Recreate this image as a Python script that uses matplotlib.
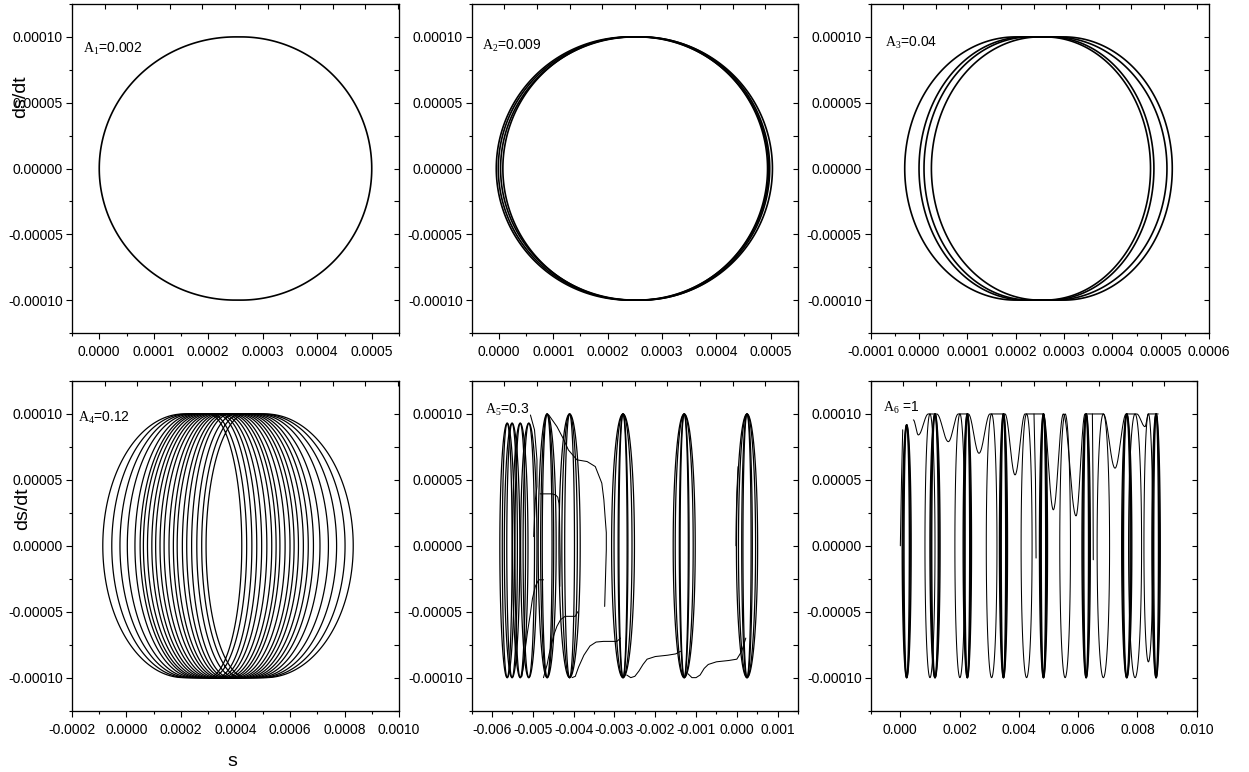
import numpy as np
import matplotlib
matplotlib.use("Agg")
import matplotlib.pyplot as plt
from matplotlib.patches import Polygon
from matplotlib.ticker import MultipleLocator, FormatStrFormatter

plt.rcParams["font.family"] = ["Liberation Sans", "DejaVu Sans"]
plt.rcParams["mathtext.fontset"] = "custom"
plt.rcParams["mathtext.rm"] = "Liberation Serif"
plt.rcParams["mathtext.it"] = "Liberation Serif:italic"
plt.rcParams["lines.solid_joinstyle"] = "round"
plt.rcParams["lines.solid_capstyle"] = "round"

W, H = 1249, 772

# ---- values ----
# loops: left edge, x where the left arc meets the top, x where the right arc leaves it, right edge
p1_left = [0.0]
p1_topl = [0.00025]
p1_topr = [0.00026]
p1_right = [0.0005]

p2_left = [-0.0000048, -0.0000011, 0.0000031, 0.0000073]
p2_topl = [0.00024, 0.000245, 0.00025, 0.000245]
p2_topr = [0.00026, 0.000262, 0.000258, 0.000255]
p2_right = [0.000503, 0.000498, 0.000494, 0.000496]

p3_left = [-0.0000296, 0.0, 0.0000103, 0.0000256]
p3_topl = [0.00020, 0.00022, 0.00023, 0.00025]
p3_topr = [0.00030, 0.00028, 0.00027, 0.00026]
p3_right = [0.000524, 0.000513, 0.000486, 0.000479]

p4_left = [-0.000087, -0.000054, -0.000024, 0.000003, 0.000031, 0.000050, 0.000062,
           0.000077, 0.000093, 0.000107, 0.000123, 0.000138, 0.000156, 0.000172,
           0.000186, 0.000205, 0.000221, 0.000239, 0.000258, 0.000276, 0.000292]
p4_topl = [0.00021, 0.00022, 0.00023, 0.00024, 0.00025, 0.00026, 0.00027, 0.00028,
           0.00029, 0.00030, 0.00031, 0.00032, 0.00033, 0.00034, 0.00035, 0.00036,
           0.00037, 0.00038, 0.00040, 0.00042, 0.00044]
p4_topr = [0.00051, 0.00050, 0.00049, 0.00048, 0.00047, 0.00046, 0.00045, 0.00044,
           0.00043, 0.00042, 0.00041, 0.00040, 0.00039, 0.00038, 0.00037, 0.00036,
           0.00035, 0.00034, 0.00033, 0.00031, 0.00030]
p4_right = [0.000832, 0.000802, 0.000771, 0.000741, 0.000710, 0.000686, 0.000667,
            0.000649, 0.000631, 0.000615, 0.000600, 0.000582, 0.000563, 0.000549,
            0.000533, 0.000515, 0.000496, 0.000478, 0.000460, 0.000441, 0.000423]

# A5: sites of narrow loops (centre, half widths, top)
p5_centers = [0.00025, -0.00129, -0.00279, -0.0041, -0.00465, -0.0051, -0.00531, -0.00551, -0.00563]
p5_widths = [[0.00026, 0.00021, 0.00013, 0.00010],
             [0.00027, 0.00022, 0.00012, 0.00010],
             [0.00028, 0.00022, 0.00012, 0.00010],
             [0.00026, 0.00019, 0.00012],
             [0.00022, 0.00016, 0.00012],
             [0.00020, 0.00014],
             [0.00019, 0.00013],
             [0.00019, 0.00013],
             [0.00018, 0.00012]]
p5_tops = [0.0001, 0.0001, 0.0001, 0.0001, 0.0001, 0.000093, 0.000093, 0.000093, 0.000093]
# drifting parts of the A5 trajectory
p5_drift_x = [
    [-0.00002, -0.000015, 0.0, 0.00003],
    [0.00022, 0.00012, 0.0, -0.0002, -0.0005, -0.0007, -0.0008, -0.0009, -0.001, -0.0011, -0.0012],
    [-0.00138, -0.0015, -0.0017, -0.002, -0.0022, -0.0023, -0.0024, -0.0025, -0.0026, -0.0027],
    [-0.00285, -0.00294, -0.0031, -0.00327, -0.00345, -0.0036, -0.00375, -0.00388, -0.00396, -0.00404],
    [-0.0039, -0.00396, -0.0041, -0.00421, -0.00432, -0.00441, -0.00448, -0.00453, -0.0046, -0.00465, -0.00474],
    [-0.00474, -0.00486, -0.00494, -0.00501, -0.00506, -0.00513, -0.00519, -0.00527],
    [-0.00482, -0.00453, -0.00444, -0.00439, -0.00436, -0.00435, -0.00433, -0.00434],
    [-0.00461, -0.00441, -0.00425, -0.00413, -0.00392, -0.00367, -0.00347, -0.00331, -0.00326,
     -0.00323, -0.0032, -0.0032, -0.00324],
    [-0.00506, -0.00496, -0.0049, -0.0049, -0.00494, -0.00498],
]
p5_drift_y = [
    [0.0, 0.00002, 0.00004, 0.00006],
    [-0.00007, -0.00008, -0.000086, -0.000087, -0.000088, -0.00009, -0.000093, -0.000098, -0.0001, -0.0001, -0.000097],
    [-0.00008, -0.000082, -0.000083, -0.000084, -0.000086, -0.00009, -0.000095, -0.000099, -0.0001, -0.000098],
    [-0.00007, -0.0000725, -0.0000725, -0.0000725, -0.000073, -0.000076, -0.000083, -0.000092, -0.000099, -0.0001],
    [-0.00005, -0.0000535, -0.0000535, -0.0000535, -0.000056, -0.000061, -0.000067, -0.000073, -0.000082, -0.00009, -0.0001],
    [-0.0000258, -0.0000258, -0.0000308, -0.00004, -0.000051, -0.000065, -0.0000788, -0.000099],
    [0.0000394, 0.0000394, 0.0000385, 0.0000369, 0.000032, 0.0000273, -0.0000106, -0.0000308],
    [0.0000992, 0.0000904, 0.000081, 0.0000727, 0.0000652, 0.0000639, 0.0000601, 0.0000475, 0.000035,
     0.0000222, 0.00001, -0.000003, -0.000046],
    [0.0000992, 0.0000879, 0.0000652, 0.000045, 0.0000348, 0.000007],
]

# A6: thick (repeated) and thin (single) loops
p6_thick_c = [0.000214, 0.00117, 0.00226, 0.00348, 0.00483, 0.00627, 0.00764, 0.00863]
p6_thick_w = [0.00015, 0.00017, 0.00014, 0.000135, 0.000135, 0.00014, 0.00017, 0.00014]
p6_thick_top = [0.0000917, 0.0001, 0.0001, 0.0001, 0.0001, 0.0001, 0.0001, 0.0001]
p6_thin_c = [0.00100, 0.00201, 0.00308, 0.00426, 0.00556, 0.00685, 0.00792, 0.00837]
p6_thin_w = [0.000169, 0.000169, 0.00018, 0.000185, 0.00018, 0.00021, 0.00022, 0.00015]
p6_thin_bot = [-0.0001, -0.0001, -0.0001, -0.0001, -0.0001, -0.0001, -0.0001, -0.000088]
# wavy line along the top
p6_wave_x = [0.000439, 0.000607, 0.000945, 0.001228, 0.00162, 0.001957, 0.002294, 0.002655,
             0.003026, 0.003532, 0.00387, 0.004207, 0.004825, 0.005162, 0.0055, 0.005928,
             0.006232, 0.00685, 0.007244, 0.00762, 0.007976, 0.008256, 0.008368, 0.0087]
p6_wave_y = [0.0000955, 0.0000841, 0.0001, 0.0001, 0.000079, 0.0001, 0.0001, 0.0000702,
             0.0001, 0.0001, 0.0000538, 0.0001, 0.0001, 0.0000273, 0.0001, 0.0000227,
             0.0001, 0.0001, 0.0000589, 0.0001, 0.0001, 0.0000904, 0.0001, 0.0001]
p6_spike_x = [[0.00451, 0.00456, 0.00458], [0.00648, 0.0065, 0.00651], [0.0, 0.00004, 0.00008]]
p6_spike_y = [[0.0001, 0.00005, -0.0000093], [0.0001, 0.00005, -0.0000106], [0.0, 0.00005, 0.000088]]

labels = [r"$\mathrm{A_1}$=0.002", r"$\mathrm{A_2}$=0.009", r"$\mathrm{A_3}$=0.04",
          r"$\mathrm{A_4}$=0.12", r"$\mathrm{A_5}$=0.3", r"$\mathrm{A_6}$ =1"]
xlims = [(-0.00005, 0.00055), (-0.00005, 0.00055), (-0.0001, 0.0006),
         (-0.0002, 0.001), (-0.0065, 0.0015), (-0.001, 0.01)]
xmajor = [0.0001, 0.0001, 0.0001, 0.0002, 0.001, 0.002]
xfmt = ["%.4f", "%.4f", "%.4f", "%.4f", "%.3f", "%.3f"]

# axes boxes in pixels: left, right, top, bottom
boxes = [(72, 399, 4, 333), (471.7, 798, 4, 333), (870.7, 1209, 4, 333),
         (72, 399, 381, 710.6), (471.7, 798, 381, 710.6), (870.7, 1196.7, 381, 710.6)]
label_pos = [(83, 53), (481.7, 50), (885, 46.7), (78.3, 422), (485, 414), (883.3, 411.7)]


def loop_xy(left, top_l, top_r, right, y_top, y_bot, n=80):
    # one closed loop: left arc up to the top, across, right arc down, back along the bottom
    t = np.linspace(0, np.pi / 2, n)
    xs = np.concatenate([top_l - (top_l - left) * np.cos(t),
                         top_r + (right - top_r) * np.sin(t[1:]),
                         top_r + (right - top_r) * np.cos(t[1:]),
                         top_l - (top_l - left) * np.sin(t[1:-1])])
    ys = np.concatenate([y_top * np.sin(t), y_top * np.cos(t[1:]),
                         y_bot * np.sin(t[1:]), y_bot * np.cos(t[1:-1])])
    return np.column_stack([xs, ys])


def draw_loop(ax, pts, lw):
    ax.add_patch(Polygon(pts, closed=True, fill=False, edgecolor="black", lw=lw, joinstyle="round"))


def eased(xp, yp, n=30):
    xs, ys = [], []
    for i in range(len(xp) - 1):
        t = np.linspace(0, 1, n)[:-1]
        xs.append(xp[i] + (xp[i + 1] - xp[i]) * t)
        ys.append(yp[i] + (yp[i + 1] - yp[i]) * (1 - np.cos(np.pi * t)) / 2)
    xs.append([xp[-1]])
    ys.append([yp[-1]])
    return np.concatenate(xs), np.concatenate(ys)


fig = plt.figure(figsize=(W / 100, H / 100), dpi=100)
axes = []
for i, (l, r, t, b) in enumerate(boxes):
    ax = fig.add_axes([l / W, 1 - b / H, (r - l) / W, (b - t) / H])
    axes.append(ax)

tops = [(p1_left, p1_topl, p1_topr, p1_right),
        (p2_left, p2_topl, p2_topr, p2_right),
        (p3_left, p3_topl, p3_topr, p3_right)]
for ax, (L, TL, TR, R) in zip(axes[:3], tops):
    for a, b_, c, d in zip(L, TL, TR, R):
        draw_loop(ax, loop_xy(a, b_, c, d, 0.0001, -0.0001), 1.2)

ax = axes[3]
for a, b_, c, d in zip(p4_left, p4_topl, p4_topr, p4_right):
    draw_loop(ax, loop_xy(a, b_, c, d, 0.0001, -0.0001), 0.9)

ax = axes[4]
for c, ws, top in zip(p5_centers, p5_widths, p5_tops):
    for w in ws:
        draw_loop(ax, loop_xy(c - w, c, c, c + w, top, -0.0001), 0.9)
for dx, dy in zip(p5_drift_x, p5_drift_y):
    ax.plot(dx, dy, color="black", lw=0.75)

ax = axes[5]
for c, w, top in zip(p6_thick_c, p6_thick_w, p6_thick_top):
    for k in range(3):
        ww = w - k * 0.00003
        draw_loop(ax, loop_xy(c - ww, c, c, c + ww, top, -0.0001), 1.0)
for c, w, bot in zip(p6_thin_c, p6_thin_w, p6_thin_bot):
    draw_loop(ax, loop_xy(c - w, c, c, c + w, 0.0001, bot), 0.75)
x, y = eased(p6_wave_x, p6_wave_y)
ax.plot(x, y, color="black", lw=0.75)
for dx, dy in zip(p6_spike_x, p6_spike_y):
    ax.plot(dx, dy, color="black", lw=0.75)

for i, ax in enumerate(axes):
    ax.set_xlim(*xlims[i])
    ax.set_ylim(-0.000125, 0.000125)
    ax.xaxis.set_major_locator(MultipleLocator(xmajor[i]))
    ax.xaxis.set_minor_locator(MultipleLocator(xmajor[i] / 2))
    ax.yaxis.set_major_locator(MultipleLocator(0.00005))
    ax.yaxis.set_minor_locator(MultipleLocator(0.000025))
    ax.xaxis.set_major_formatter(FormatStrFormatter(xfmt[i]))
    ax.yaxis.set_major_formatter(FormatStrFormatter("%.5f"))
    ax.tick_params(which="both", direction="out", top=False, right=False, width=0.8, labelsize=10)
    ax.tick_params(which="major", length=4)
    ax.tick_params(which="minor", length=2.5)
    ax.tick_params(axis="x", pad=5)
    ax.tick_params(axis="y", pad=2.5)
    for sp in ax.spines.values():
        sp.set_linewidth(0.8)

    axr = ax.twinx()
    axr.set_ylim(-0.000125, 0.000125)
    axr.yaxis.set_major_locator(MultipleLocator(0.00005))
    axr.yaxis.set_minor_locator(MultipleLocator(0.000025))
    axr.tick_params(which="both", direction="in", length=3.5, width=0.8, labelright=False)

    l, r, t, b = boxes[i]
    axt = ax.twiny()
    axt.set_xlim(0, (r - l) / 32.6)
    axt.xaxis.set_major_locator(MultipleLocator(1))
    axt.xaxis.set_minor_locator(MultipleLocator(1))
    axt.tick_params(which="both", direction="in", length=3.5, width=0.8, labeltop=False)

    lx, ly = label_pos[i]
    fig.text(lx / W, 1 - ly / H, labels[i], fontsize=10, va="baseline", ha="left")

fig.text(21 / W, 1 - 97 / H, "ds/dt", rotation=90, fontsize=14, ha="center", va="center")
fig.text(23 / W, 1 - 509 / H, "ds/dt", rotation=90, fontsize=14, ha="center", va="center")
fig.text(232 / W, 1 - 761 / H, "s", fontsize=14, ha="center", va="center")

fig.savefig("out.png", dpi=100)
